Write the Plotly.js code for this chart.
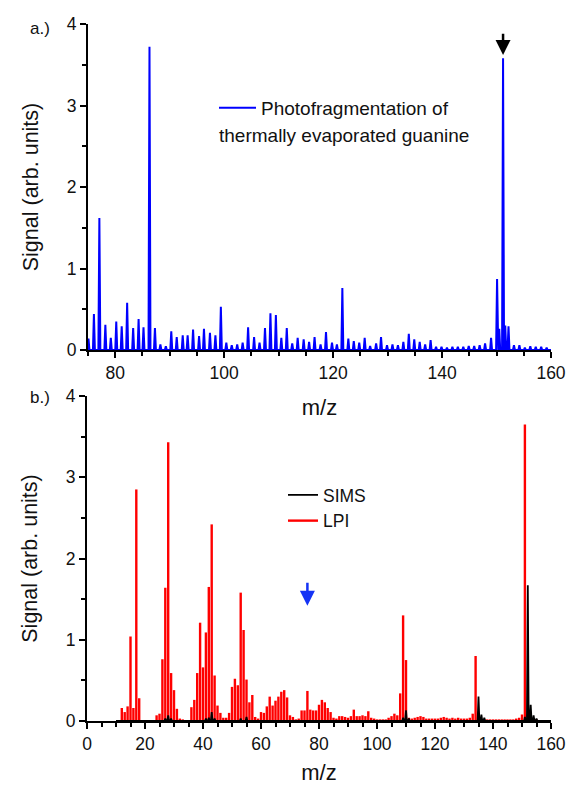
<!DOCTYPE html>
<html>
<head>
<meta charset="utf-8">
<script src="https://cdn.plot.ly/plotly-3.0.1.min.js"></script>
<style>html,body{margin:0;padding:0;background:#fff}#chart{width:569px;height:788px}</style>
</head>
<body>
<div id="chart"></div>
<script>
// ---- Panel a: photofragmentation of thermally evaporated guanine ----
const topMz = [75.1,76.1,77.1,78.2,79.2,80.2,81.2,82.2,83.3,84.3,85.2,86.3,87.3,88.3,89.3,90.3,91.3,92.4,93.3,94.3,
  95.4,96.3,97.4,98.4,99.4,100.4,101.4,102.4,103.4,104.4,105.5,106.5,107.5,108.5,109.5,110.5,111.5,112.5,113.5,114.6,
  115.6,116.6,117.7,118.7,119.8,120.7,121.7,122.8,123.8,124.8,125.8,126.8,127.9,128.8,129.9,130.9,131.9,132.9,133.9,134.9,
  135.9,136.9,137.9,138.9,139.9,140.9,141.9,142.9,143.9,144.9,145.9,146.9,147.9,149.0,150.1,150.5,151.2,151.6,152.2,153.2,
  154.2,155.2,156.2,157.2,158.2,159.2];
const topSignal = [0.14,0.44,1.62,0.31,0.15,0.35,0.29,0.58,0.27,0.38,0.28,3.72,0.27,0.07,0.045,0.23,0.16,0.18,0.18,0.25,
  0.17,0.26,0.21,0.18,0.53,0.09,0.06,0.07,0.09,0.28,0.16,0.09,0.27,0.45,0.43,0.15,0.27,0.08,0.15,0.13,
  0.10,0.16,0.07,0.22,0.09,0.07,0.76,0.14,0.11,0.09,0.15,0.05,0.08,0.16,0.06,0.07,0.06,0.10,0.20,0.13,
  0.10,0.07,0.12,0.04,0.04,0.03,0.04,0.04,0.04,0.05,0.05,0.06,0.08,0.15,0.87,0.26,3.58,0.30,0.29,0.06,
  0.06,0.03,0.045,0.04,0.04,0.03];

// ---- Panel b: LPI and SIMS ----
const lpiMz = [12,13,14,15,16,17,18,19,20,21,22,23,24,25,26,27,28,29,30,31,32,33,34,35,36,37,38,39,40,41,42,43,44,45,46,47,48,49,50,
  51,52,53,54,55,56,57,58,59,60,61,62,63,64,65,66,67,68,69,70,71,72,73,74,75,76,77,78,79,80,81,82,83,84,85,86,87,88,89,90,
  91,92,93,94,95,96,97,98,99,100,101,102,103,104,105,106,107,108,109,110,111,112,113,114,115,116,117,118,119,120,
  121,122,123,124,125,126,127,128,129,130,131,132,133,134,135,136,137,138,139,140,141,142,143,144,145,146,147,148,149,150,
  151,152,153,154,155];
const lpiSignal = [0.16,0.11,0.18,1.04,0.16,2.85,0.28,0.01,0.01,0.01,0.01,0.01,0.07,0.09,0.76,1.64,3.43,0.59,0.38,0.15,0.03,0.02,0.01,0.01,
  0.17,0.26,0.59,1.21,0.66,1.09,1.65,2.42,0.56,0.19,0.10,0.04,0.04,0.10,0.42,
  0.52,0.44,1.58,1.12,0.51,0.23,0.32,0.05,0.03,0.11,0.10,0.18,0.30,0.19,0.25,0.30,0.36,0.38,0.29,0.07,0.05,0.02,0.03,0.13,0.13,0.37,
  0.14,0.13,0.13,0.20,0.26,0.23,0.16,0.11,0.04,0.03,0.06,0.06,0.05,0.04,
  0.06,0.14,0.06,0.06,0.07,0.06,0.12,0.04,0.03,0.02,0.02,0.02,0.02,0.04,0.06,0.09,0.07,0.34,1.30,0.75,0.04,0.03,0.04,0.05,0.06,0.05,0.03,0.03,0.03,0.03,
  0.03,0.04,0.05,0.04,0.03,0.04,0.03,0.04,0.03,0.03,0.03,0.04,0.09,0.80,0.08,0.03,0.02,0.02,0.02,0.02,0.02,0.02,0.02,0.02,0.02,0.02,0.02,0.03,0.04,0.08,
  3.65,0.08,0.03,0.02,0.02];
const simsMz = [27,28,29,41,42,43,44,53,55,109,110,111,135,136,137,151,152,153,154,155];
const simsSignal = [0.03,0.07,0.03,0.03,0.04,0.11,0.03,0.03,0.05,0.04,0.13,0.03,0.30,0.08,0.04,0.05,1.67,0.20,0.07,0.03];

const xTicksTop = [80,100,120,140,160];
const xTicksBottom = [0,20,40,60,80,100,120,140,160];
const yTicks = [0,1,2,3,4];

// peak shapes built from the value arrays
function peaks(mz, sig, half, x0, x1) {
  const x = [x0], y = [0];
  mz.forEach((m, i) => { x.push(m - half, m, m + half); y.push(0, sig[i], 0); });
  x.push(x1); y.push(0);
  return {x, y};
}
function sticks(mz, sig) {
  const x = [], y = [];
  mz.forEach((m, i) => { x.push(m, m, null); y.push(0, sig[i], null); });
  return {x, y};
}

const tp = peaks(topMz, topSignal, 0.18, 75, 160);
const lp = sticks(lpiMz, lpiSignal);
const sp = peaks(simsMz, simsSignal, 0.3, 10, 160);

const FONT = 'Liberation Sans, Arial, sans-serif';
const INK = '#111';
const L = 87, W = 464, B = 721, H = 697;   // plot-area geometry in pixels
const px = v => (v - L) / W, py = v => (B - v) / H;

const traces = [
  {x: tp.x, y: tp.y, type: 'scatter', mode: 'lines', name: 'Photofragmentation of', showlegend: true,
   line: {color: '#0000ff', width: 2}, xaxis: 'x', yaxis: 'y', legend: 'legend'},
  {x: lp.x, y: lp.y, type: 'scatter', mode: 'lines', name: 'LPI', showlegend: true,
   line: {color: '#ff0000', width: 2.4}, xaxis: 'x2', yaxis: 'y2', legend: 'legend2'},
  {x: sp.x, y: sp.y, type: 'scatter', mode: 'lines', name: 'SIMS', showlegend: true,
   line: {color: '#000000', width: 1.8}, xaxis: 'x2', yaxis: 'y2', legend: 'legend2'}
];

const axisCommon = {
  showline: true, linecolor: '#000', linewidth: 2, ticks: 'outside', ticklen: 6, tickwidth: 2,
  tickcolor: '#000', showgrid: false, zeroline: false, mirror: false, automargin: false,
  tickfont: {family: FONT, size: 17.5, color: INK}
};
const minorX = {dtick: 5, tick0: 0, ticks: 'outside', ticklen: 4, tickwidth: 2, tickcolor: '#000'};
const minorY = {dtick: 0.5, tick0: 0, ticks: 'outside', ticklen: 4, tickwidth: 2, tickcolor: '#000'};
const yTitleFont = {family: FONT, size: 21.5, color: INK};
const xTitleFont = {family: FONT, size: 22, color: INK};

const layout = {
  width: 569, height: 788, showlegend: true,
  margin: {l: L, r: 569 - L - W, t: 24, b: 788 - B, autoexpand: false},
  paper_bgcolor: '#fff', plot_bgcolor: '#fff',
  font: {family: FONT, color: INK},
  xaxis: Object.assign({}, axisCommon, {
    domain: [0.002, 1], anchor: 'y', range: [75, 160], tickvals: xTicksTop, minor: minorX,
    title: {text: 'm/z', font: xTitleFont, standoff: 18}
  }),
  yaxis: Object.assign({}, axisCommon, {
    domain: [py(350), 1], anchor: 'x', range: [0, 4], tickvals: yTicks, minor: minorY,
    title: {text: 'Signal (arb. units)', font: yTitleFont, standoff: 22}
  }),
  xaxis2: Object.assign({}, axisCommon, {
    domain: [0, 1], anchor: 'y2', range: [0, 160], tickvals: xTicksBottom, minor: minorX,
    title: {text: 'm/z', font: xTitleFont, standoff: 12}
  }),
  yaxis2: Object.assign({}, axisCommon, {
    domain: [0, py(396)], anchor: 'x2', range: [0, 4], tickvals: yTicks, minor: minorY,
    title: {text: 'Signal (arb. units)', font: yTitleFont, standoff: 22}
  }),
  legend: {
    x: px(214), y: py(108), xanchor: 'left', yanchor: 'middle', bgcolor: 'rgba(0,0,0,0)',
    itemwidth: 37, font: {family: FONT, size: 19, color: INK}
  },
  legend2: {
    x: px(283), y: py(508), xanchor: 'left', yanchor: 'middle', bgcolor: 'rgba(0,0,0,0)',
    traceorder: 'reversed', font: {family: FONT, size: 17.5, color: INK}
  },
  annotations: [
    {xref: 'paper', yref: 'paper', x: px(40), y: py(28), text: 'a.)', showarrow: false,
     xanchor: 'center', yanchor: 'middle', font: {family: FONT, size: 17, color: INK}},
    {xref: 'paper', yref: 'paper', x: px(40), y: py(397), text: 'b.)', showarrow: false,
     xanchor: 'center', yanchor: 'middle', font: {family: FONT, size: 17, color: INK}},
    {xref: 'paper', yref: 'paper', x: px(217), y: py(135), text: 'thermally evaporated guanine',
     showarrow: false, xanchor: 'left', yanchor: 'middle', font: {family: FONT, size: 19, color: INK}},
    {xref: 'x', yref: 'y', x: 151.2, y: 3.62, axref: 'x', ayref: 'y', ax: 151.2, ay: 3.9, text: '',
     showarrow: true, arrowhead: 2, arrowsize: 1.2, arrowwidth: 2.5, arrowcolor: '#000'},
    {xref: 'x2', yref: 'y2', x: 76, y: 1.42, axref: 'x2', ayref: 'y2', ax: 76, ay: 1.72, text: '',
     showarrow: true, arrowhead: 2, arrowsize: 1.2, arrowwidth: 2.5, arrowcolor: '#1533f5'}
  ]
};

Plotly.newPlot('chart', traces, layout, {displayModeBar: false, staticPlot: true});
</script>
</body>
</html>
